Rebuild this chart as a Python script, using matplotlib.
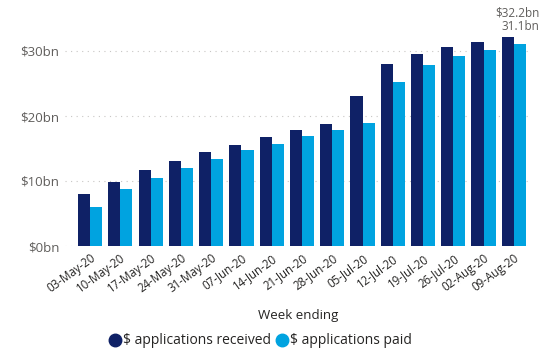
import matplotlib.pyplot as plt
import numpy as np
from matplotlib.lines import Line2D

plt.rcParams['font.family'] = ['Open Sans', 'DejaVu Sans']

weeks = ["03-May-20", "10-May-20", "17-May-20", "24-May-20", "31-May-20",
         "07-Jun-20", "14-Jun-20", "21-Jun-20", "28-Jun-20", "05-Jul-20",
         "12-Jul-20", "19-Jul-20", "26-Jul-20", "02-Aug-20", "09-Aug-20"]
received = [8.0, 9.9, 11.7, 13.1, 14.4, 15.6, 16.8, 17.8, 18.8, 23.1,
            27.95, 29.5, 30.6, 31.4, 32.2]
paid = [6.05, 8.8, 10.5, 12.05, 13.4, 14.7, 15.7, 16.9, 17.9, 18.9,
        25.2, 27.8, 29.3, 30.2, 31.1]
yticks = [0, 10, 20, 30]
ytick_labels = ["$0bn", "$10bn", "$20bn", "$30bn"]

dark = "#0F2166"
light = "#00A3E0"
grey = "#605E5C"

fig = plt.figure(figsize=(5.46, 3.56), dpi=100)
ax = fig.add_axes([65 / 546, 1 - 246 / 356, (532 - 65) / 546, (246 - 31.5) / 356])

x = np.arange(len(weeks))
w = 0.4
ax.bar(x - w / 2, received, width=w, color=dark, zorder=3)
ax.bar(x + w / 2, paid, width=w, color=light, zorder=3)

ax.text(x[-1] + 0.85, received[-1] + 3.7, f"${received[-1]:.1f}bn", ha="right", va="center",
        fontsize=8.5, color=grey, clip_on=False)
ax.text(x[-1] + 0.85, paid[-1] + 2.6, f"{paid[-1]:.1f}bn", ha="right", va="center",
        fontsize=8.5, color=grey, clip_on=False)

ax.set_xlim(-0.83, 14.6)
ax.set_ylim(0, 33)
ax.set_yticks(yticks)
ax.set_yticklabels(ytick_labels, fontsize=9.5, color=grey)
ax.set_xticks(x)
ax.set_xticklabels(weeks, rotation=36, ha="right", rotation_mode="anchor",
                   fontsize=8.3, color="#252423")
ax.tick_params(length=0, pad=4)
ax.tick_params(axis="x", pad=4)
ax.grid(axis="y", color="#C8C6C4", linestyle=(0, (1, 4)), linewidth=0.8, zorder=0)
for s in ax.spines.values():
    s.set_visible(False)

ax.set_xlabel("Week ending", fontsize=9.5, color="#252423", labelpad=10)

handles = [Line2D([], [], marker="o", linestyle="", markersize=9, color=dark),
           Line2D([], [], marker="o", linestyle="", markersize=9, color=light)]
fig.legend(handles, ["$ applications received", "$ applications paid"],
           loc="center", bbox_to_anchor=(260 / 546, 1 - 341 / 356), ncol=2,
           frameon=False, fontsize=10, handletextpad=0.05, columnspacing=0.3,
           handlelength=1.0, labelcolor="#252423")

fig.savefig("out.png", dpi=100)
